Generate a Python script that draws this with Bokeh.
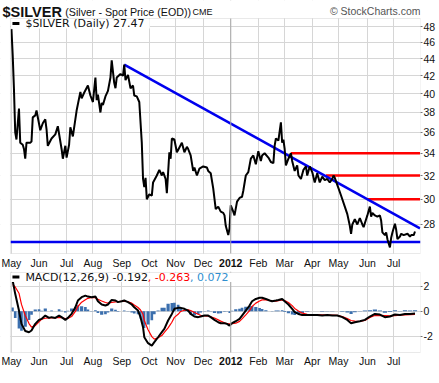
import math
import pandas as pd
from bokeh.plotting import figure
from bokeh.models import (Range1d, FixedTicker, Span, Label, BoxAnnotation,
                          ColumnDataSource, NumeralTickFormatter)
from bokeh.layouts import column
from bokeh.embed import file_html
from bokeh.resources import INLINE

# ---------------- data ----------------
price_dates = [
    "2011-05-02", "2011-05-03", "2011-05-04", "2011-05-05", "2011-05-06", "2011-05-10",
    "2011-05-11", "2011-05-13", "2011-05-16", "2011-05-17", "2011-05-18", "2011-05-23",
    "2011-05-24", "2011-05-25", "2011-05-27", "2011-05-30", "2011-06-02", "2011-06-06",
    "2011-06-08", "2011-06-09", "2011-06-10", "2011-06-15", "2011-06-20", "2011-06-22",
    "2011-06-27", "2011-06-28", "2011-06-30", "2011-07-01", "2011-07-05", "2011-07-06",
    "2011-07-08", "2011-07-13", "2011-07-18", "2011-07-19", "2011-07-21", "2011-07-26",
    "2011-07-28", "2011-08-01", "2011-08-03", "2011-08-04", "2011-08-05", "2011-08-09",
    "2011-08-10", "2011-08-11", "2011-08-15", "2011-08-17", "2011-08-19", "2011-08-22",
    "2011-08-24", "2011-08-25", "2011-08-26", "2011-08-31", "2011-09-02", "2011-09-05",
    "2011-09-06", "2011-09-08", "2011-09-12", "2011-09-14", "2011-09-15", "2011-09-19",
    "2011-09-21", "2011-09-23", "2011-09-26", "2011-09-27", "2011-09-28", "2011-09-29",
    "2011-10-03", "2011-10-05", "2011-10-06", "2011-10-11", "2011-10-13", "2011-10-17",
    "2011-10-18", "2011-10-20", "2011-10-21", "2011-10-25", "2011-10-26", "2011-10-27",
    "2011-10-31", "2011-11-02", "2011-11-03", "2011-11-08", "2011-11-10", "2011-11-14",
    "2011-11-15", "2011-11-17", "2011-11-21", "2011-11-22", "2011-11-24", "2011-11-28",
    "2011-12-01", "2011-12-06", "2011-12-07", "2011-12-09", "2011-12-13", "2011-12-15",
    "2011-12-19", "2011-12-21", "2011-12-23", "2011-12-26", "2011-12-27", "2011-12-29",
    "2011-12-30", "2012-01-02", "2012-01-04", "2012-01-05", "2012-01-09", "2012-01-11",
    "2012-01-13", "2012-01-16", "2012-01-18", "2012-01-20", "2012-01-24", "2012-01-26",
    "2012-01-30", "2012-02-01", "2012-02-03", "2012-02-06", "2012-02-08", "2012-02-13",
    "2012-02-15", "2012-02-17", "2012-02-20", "2012-02-21", "2012-02-23", "2012-02-27",
    "2012-02-28", "2012-02-29", "2012-03-01", "2012-03-02", "2012-03-06", "2012-03-08",
    "2012-03-09", "2012-03-13", "2012-03-15", "2012-03-16", "2012-03-20", "2012-03-22",
    "2012-03-26", "2012-03-27", "2012-03-29", "2012-04-02", "2012-04-04", "2012-04-06",
    "2012-04-10", "2012-04-12", "2012-04-16", "2012-04-18", "2012-04-20", "2012-04-24",
    "2012-04-25", "2012-04-26", "2012-05-01", "2012-05-03", "2012-05-08", "2012-05-10",
    "2012-05-14", "2012-05-15", "2012-05-16", "2012-05-18", "2012-05-22", "2012-05-24",
    "2012-05-28", "2012-05-29", "2012-05-31", "2012-06-01", "2012-06-05", "2012-06-06",
    "2012-06-07", "2012-06-11", "2012-06-13", "2012-06-15", "2012-06-18", "2012-06-19",
    "2012-06-21", "2012-06-22", "2012-06-25", "2012-06-27", "2012-06-28", "2012-06-29",
    "2012-07-03", "2012-07-04", "2012-07-05", "2012-07-09", "2012-07-10", "2012-07-12",
    "2012-07-17", "2012-07-19", "2012-07-20", "2012-07-24", "2012-07-25",
]
price_values = [
    47.7, 44.4, 40.5, 36.0, 35.3, 38.4,
    35.0, 34.8, 34.4, 33.5, 35.0, 35.0,
    35.1, 37.5, 37.7, 38.2, 36.2, 36.9,
    37.3, 36.3, 34.7, 35.4, 35.8, 36.6,
    34.4, 33.5, 34.7, 33.6, 34.8, 36.5,
    35.6, 38.2, 40.2, 39.5, 40.1, 40.9,
    39.8, 39.1, 41.8, 39.3, 39.9, 38.0,
    39.0, 38.8, 39.7, 40.3, 41.8, 43.8,
    41.2, 40.6, 41.8, 42.2, 42.0, 43.3,
    41.5, 42.1, 40.6, 40.9, 39.8, 39.7,
    39.1, 35.0, 31.7, 31.0, 31.8, 30.0,
    30.4, 30.3, 31.4, 32.0, 32.5, 32.0,
    32.3, 31.7, 30.5, 34.1, 33.5, 35.4,
    35.3, 34.1, 34.3, 35.0, 34.1, 34.6,
    34.4, 33.8, 32.4, 32.7, 32.0, 32.6,
    32.8, 32.7, 32.4, 32.2, 30.9, 29.2,
    29.4, 29.0, 28.9, 28.7, 27.9, 27.2,
    27.7, 29.5, 29.0, 28.7, 29.8, 30.1,
    30.2, 30.7, 32.0, 32.3, 33.5, 33.8,
    33.0, 34.2, 33.3, 33.8, 34.0, 33.6,
    33.2, 33.1, 34.7, 35.4, 35.2, 37.0,
    35.0, 35.3, 34.4, 32.9, 33.5, 34.0,
    33.3, 32.4, 32.9, 32.0, 31.7, 32.5,
    32.8, 32.0, 32.8, 32.3, 31.4, 32.2,
    31.4, 31.9, 31.6, 31.7, 31.4, 31.7,
    32.0, 31.8, 30.9, 30.3, 29.4, 28.8,
    27.9, 27.3, 28.0, 28.4, 28.0, 28.5,
    28.0, 27.8, 28.4, 28.7, 29.4, 28.6,
    28.9, 28.7, 28.6, 28.7, 28.3, 27.4,
    27.2, 27.4, 26.9, 26.3, 27.0, 27.4,
    28.05, 27.6, 26.9, 27.1, 27.3, 27.2,
    27.3, 27.1, 27.2, 27.2, 27.47,
]

macd_dates = [
    "2011-05-03", "2011-05-05", "2011-05-10", "2011-05-12", "2011-05-17", "2011-05-20",
    "2011-05-24", "2011-05-27", "2011-06-01", "2011-06-03", "2011-06-08", "2011-06-13",
    "2011-06-15", "2011-06-20", "2011-06-23", "2011-06-27", "2011-06-30", "2011-07-04",
    "2011-07-07", "2011-07-12", "2011-07-14", "2011-07-19", "2011-07-22", "2011-07-26",
    "2011-07-29", "2011-08-03", "2011-08-05", "2011-08-10", "2011-08-15", "2011-08-17",
    "2011-08-22", "2011-08-25", "2011-08-29", "2011-09-01", "2011-09-05", "2011-09-08",
    "2011-09-13", "2011-09-15", "2011-09-20", "2011-09-22", "2011-09-26", "2011-09-27",
    "2011-09-30", "2011-10-05", "2011-10-07", "2011-10-12", "2011-10-17", "2011-10-19",
    "2011-10-24", "2011-10-27", "2011-10-31", "2011-11-03", "2011-11-07", "2011-11-10",
    "2011-11-15", "2011-11-17", "2011-11-22", "2011-11-25", "2011-11-29", "2011-12-02",
    "2011-12-07", "2011-12-09", "2011-12-14", "2011-12-19", "2011-12-21", "2011-12-26",
    "2011-12-28", "2011-12-30", "2012-01-03", "2012-01-06", "2012-01-11", "2012-01-13",
    "2012-01-18", "2012-01-23", "2012-01-25", "2012-01-30", "2012-02-02", "2012-02-06",
    "2012-02-09", "2012-02-14", "2012-02-16", "2012-02-21", "2012-02-23", "2012-02-28",
    "2012-03-01", "2012-03-06", "2012-03-09", "2012-03-13", "2012-03-16", "2012-03-21",
    "2012-03-27", "2012-04-02", "2012-04-06", "2012-04-12", "2012-04-18", "2012-04-24",
    "2012-04-30", "2012-05-04", "2012-05-10", "2012-05-15", "2012-05-18", "2012-05-24",
    "2012-05-30", "2012-06-05", "2012-06-11", "2012-06-15", "2012-06-21", "2012-06-27",
    "2012-07-03", "2012-07-09", "2012-07-13", "2012-07-19", "2012-07-25",
]
macd_values = [
    2.45, 1.40, 0.05, -1.02, -1.60, -1.70,
    -1.56, -1.02, -0.70, -0.62, -0.35, -0.54,
    -0.48, -0.54, -0.35, -0.48, -0.70, -0.54,
    -0.21, 0.32, 0.86, 1.13, 1.26, 1.18,
    1.13, 1.18, 0.80, 0.54, 0.46, 0.54,
    0.91, 0.86, 0.73, 0.80, 0.86, 0.73,
    0.54, 0.32, 0.05, -0.48, -1.29, -2.10,
    -2.58, -2.77, -2.50, -2.10, -1.69, -1.42,
    -0.75, -0.22, 0.19, 0.27, 0.27, 0.19,
    0.05, -0.22, -0.43, -0.48, -0.43, -0.35,
    -0.35, -0.48, -0.70, -0.89, -0.97, -0.97,
    -1.02, -1.16, -0.97, -0.81, -0.62, -0.35,
    0.05, 0.46, 0.80, 0.99, 1.08, 1.08,
    0.99, 0.86, 0.80, 0.86, 0.91, 0.99,
    0.80, 0.54, 0.19, -0.08, -0.22, -0.30,
    -0.30, -0.30, -0.30, -0.35, -0.30, -0.35,
    -0.35, -0.48, -0.70, -0.97, -0.89, -0.81,
    -0.70, -0.43, -0.22, -0.27, -0.48, -0.43,
    -0.27, -0.30, -0.22, -0.22, -0.192,
]
signal_values = [
    2.15, 1.95, 1.45, 0.55, -0.35, -1.00,
    -1.28, -1.16, -0.86, -0.65, -0.57, -0.54,
    -0.54, -0.53, -0.50, -0.52, -0.60, -0.58,
    -0.43, -0.02, 0.38, 0.73, 0.93, 1.04,
    1.11, 1.10, 0.95, 0.82, 0.70, 0.65,
    0.70, 0.75, 0.78, 0.80, 0.80, 0.76,
    0.65, 0.50, 0.30, 0.10, -0.25, -0.75,
    -1.50, -2.05, -2.25, -2.15, -1.96, -1.70,
    -1.35, -0.89, -0.50, -0.25, -0.02, 0.08,
    0.11, 0.05, -0.10, -0.25, -0.33, -0.37,
    -0.40, -0.45, -0.55, -0.70, -0.80, -0.93,
    -1.00, -1.02, -1.01, -0.97, -0.82, -0.62,
    -0.30, 0.05, 0.38, 0.65, 0.82, 0.91,
    0.92, 0.86, 0.83, 0.80, 0.85, 0.91,
    0.86, 0.70, 0.45, 0.22, 0.02, -0.16,
    -0.25, -0.30, -0.30, -0.30, -0.31, -0.32,
    -0.34, -0.43, -0.60, -0.75, -0.80, -0.83,
    -0.75, -0.50, -0.35, -0.33, -0.35, -0.37,
    -0.35, -0.32, -0.30, -0.28, -0.263,
]

trend_dates = ["2011-09-05", "2012-07-31"]
trend_values = [43.3, 27.7]
resist_start = ["2012-03-08", "2012-04-17", "2012-06-01"]
resist_end = "2012-07-31"
resist_levels = [34, 32, 30]
support_level = 26.7
price_ticks = [28, 30, 32, 34, 36, 38, 40, 42, 44, 46, 48]
macd_ticks = [-2, 0, 2]

# ---------------- trading-day axis ----------------
days = pd.bdate_range("2011-05-02", "2012-07-31")
pos = {d.strftime("%Y-%m-%d"): i for i, d in enumerate(days)}


def ix(ds):
    return [pos[d] for d in ds]


month_ticks, month_names, prev = [], [], None
for i, d in enumerate(days):
    if (d.year, d.month) != prev:
        month_ticks.append(i)
        month_names.append(str(d.year) if d.month == 1 else d.strftime("%b"))
        prev = (d.year, d.month)

# ---------------- geometry (canvas px) ----------------
W = 438
PL, PR = 10, 422            # plot-area left/right edges
X0, X1 = -0.8, 326.4        # day range across the plot area
H1, PT1, PB1 = 271, 18, 253
H2, PT2, PB2 = 100, 1, 81
P_LO, P_HI = 25.87, 49.1
M_LO, M_HI = -3.33, 3.12
SX = (X1 - X0) / (PR - PL)
KP = math.log(P_HI / P_LO) / (PB1 - PT1)
DM = (M_HI - M_LO) / (PB2 - PT2)


def xd(cx):
    return X0 + (cx - PL) * SX


def yp(cy):
    return P_LO * math.exp((PB1 - cy) * KP)


def ym(cy):
    return M_HI - (cy - PT2) * DM


AXFONT = "Liberation Sans"
GRID = "#d6d6d6"


def label(p, x, y, s, size, font=AXFONT, color="#111111", bold=False,
          align="left", baseline="alphabetic"):
    p.add_layout(Label(x=x, y=y, text=s, text_font=font, text_font_size=size,
                       text_color=color, text_align=align,
                       text_baseline=baseline,
                       text_font_style="bold" if bold else "normal"))


def box(p, l, r, b, t, fill="white", line=None):
    p.add_layout(BoxAnnotation(left=l, right=r, bottom=b, top=t,
                               fill_color=fill, fill_alpha=1 if fill else 0,
                               line_color=line, line_width=1))


def base(height, yr, yticks, ytype):
    p = figure(width=W, height=height, output_backend="svg", toolbar_location=None,
               y_axis_type=ytype, y_axis_location="right",
               x_range=Range1d(xd(0), X1), y_range=yr,
               min_border_left=0, min_border_right=W - PR, min_border_top=0,
               min_border_bottom=0)
    p.xaxis.visible = False
    p.xgrid.ticker = FixedTicker(ticks=month_ticks)
    p.xgrid.grid_line_color = GRID
    p.ygrid.grid_line_color = GRID
    ax = p.yaxis[0]
    ax.ticker = FixedTicker(ticks=yticks)
    ax.formatter = NumeralTickFormatter(format="0")
    ax.major_label_text_font = AXFONT
    ax.major_label_text_font_size = "10.5px"
    ax.major_label_text_color = "#111111"
    ax.minor_tick_line_color = None
    ax.axis_line_color = None
    ax.major_tick_out = 2
    ax.major_tick_in = 0
    ax.major_tick_line_color = "#777777"
    ax.major_label_standoff = 1
    p.outline_line_color = None
    p.background_fill_color = "white"
    p.border_fill_color = "white"
    p.add_layout(Span(location=month_ticks[month_names.index("2012")],
                      dimension="height", line_color="#a8a8a8", line_width=1))
    return p


def frame_dressing(p, yb, yt, ylo, yhi, label_y):
    # hide grid outside the plot area, then draw the plot-area border
    box(p, xd(0), X1, yb, ylo)
    box(p, xd(0), X1, yhi, yt)
    box(p, xd(0), X0, yb, yt)
    box(p, X0, X1, ylo, yhi, fill=None, line="#b5b5b5")
    for t, n in zip(month_ticks, month_names):
        label(p, t, label_y, n, "10.5px", bold=(n == "2012"), align="center",
              baseline="middle")


# ---------------- price panel ----------------
p1 = base(H1, Range1d(yp(H1), yp(0)), price_ticks, "log")
end_i = pos[resist_end]
p1.segment(x0=[X0], y0=[support_level], x1=[X1], y1=[support_level],
           line_color="#0000ee", line_width=2.5)
p1.segment(x0=ix(resist_start), y0=resist_levels, x1=[end_i] * 3, y1=resist_levels,
           line_color="#ff0000", line_width=2.5)
p1.line(ix(trend_dates), trend_values, line_color="#0000ee", line_width=2.5)
p1.line(ix(price_dates), price_values, line_color="black", line_width=2)

frame_dressing(p1, yp(H1), yp(0), P_LO, P_HI, yp(262.7))
box(p1, xd(10.5), xd(150), yp(28), yp(18.5))
box(p1, xd(12), xd(19), yp(24.5), yp(21.5), fill="black")
label(p1, xd(25), yp(23), "$SILVER (Daily) 27.47", "11px", font="DejaVu Sans",
      baseline="middle")
label(p1, xd(2), yp(11.5), "$SILVER", "14.5px", bold=True)
label(p1, xd(65), yp(11.5), "(Silver - Spot Price (EOD))", "10.7px")
label(p1, xd(193), yp(11.5), "CME", "9px")
label(p1, xd(PR), yp(10), "\u00a9 StockCharts.com", "10.5px",
      color="#555555", align="right")

# ---------------- MACD panel ----------------
p2 = base(H2, Range1d(ym(H2), ym(0)), macd_ticks, "linear")
p2.x_range = p1.x_range

mx = ix(macd_dates)
hist = [m - s for m, s in zip(macd_values, signal_values)]
widths = []
for i in range(len(mx)):
    lo = mx[i - 1] if i > 0 else 2 * mx[i] - mx[i + 1]
    hi = mx[i + 1] if i < len(mx) - 1 else 2 * mx[i] - mx[i - 1]
    widths.append((hi - lo) / 2 * 0.85)
src = ColumnDataSource(dict(x=mx, top=hist, w=widths, macd=macd_values,
                            sig=signal_values))
p2.vbar(x="x", top="top", bottom=0, width="w", source=src,
        fill_color="#3b6fae", line_color=None)
p2.line("x", "sig", source=src, line_color="#ff0000", line_width=1.2)
p2.line("x", "macd", source=src, line_color="black", line_width=2)

frame_dressing(p2, ym(H2), ym(0), M_LO, M_HI, ym(89.7))
box(p2, xd(10.5), xd(236), ym(10.5), ym(1.5))
box(p2, xd(12), xd(19), ym(7), ym(4), fill="black")
label(p2, xd(25), ym(5.5), "MACD(12,26,9) -0.192", "11px", font="DejaVu Sans",
      baseline="middle")
label(p2, xd(148), ym(5.5), ", -0.263", "11px", font="DejaVu Sans",
      color="#ff0000", baseline="middle")
label(p2, xd(190.5), ym(5.5), ", 0.072", "11px", font="DejaVu Sans",
      color="#2f8fd0", baseline="middle")

layout = column(p1, p2)
open("out.html", "w").write(file_html(layout, INLINE))
